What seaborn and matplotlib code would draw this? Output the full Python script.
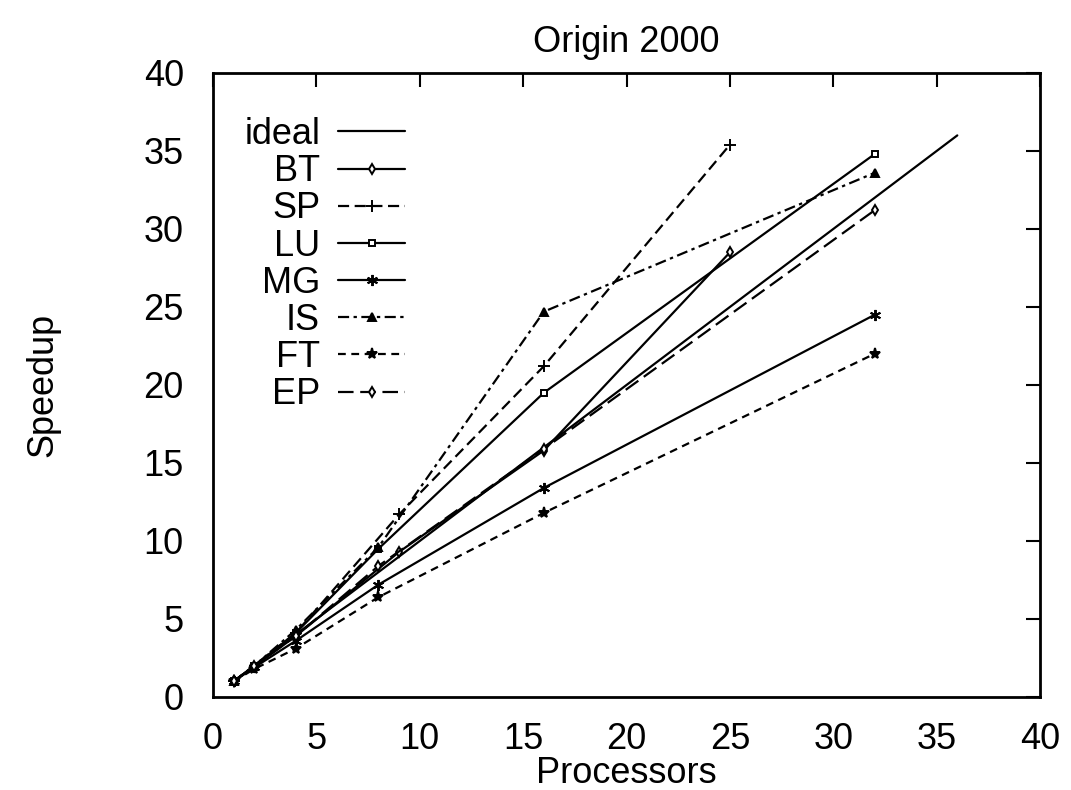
import matplotlib
matplotlib.use("Agg")
import matplotlib.pyplot as plt
import seaborn as sns
import pandas as pd

# ---- data ----
ideal_x = [1, 36]
ideal_y = [1, 36]

bt_x = [1, 4, 9, 16, 25]
bt_y = [1, 3.9, 9.3, 15.8, 28.5]

sp_x = [1, 4, 9, 16, 25]
sp_y = [1, 4.1, 11.7, 21.2, 35.4]

lu_x = [1, 2, 4, 8, 16, 32]
lu_y = [1, 2.0, 4.1, 9.5, 19.5, 34.8]

mg_x = [1, 2, 4, 8, 16, 32]
mg_y = [1, 1.9, 3.6, 7.2, 13.4, 24.5]

is_x = [1, 2, 4, 8, 16, 32]
is_y = [1, 2.0, 4.3, 9.6, 24.7, 33.6]

ft_x = [1, 2, 4, 8, 16, 32]
ft_y = [1, 1.8, 3.1, 6.4, 11.8, 22.0]

ep_x = [1, 2, 4, 8, 16, 32]
ep_y = [1, 2.0, 3.9, 8.4, 15.9, 31.2]

x_ticks = [0, 5, 10, 15, 20, 25, 30, 35, 40]
y_ticks = [0, 5, 10, 15, 20, 25, 30, 35, 40]

sns.set_style("white")
plt.rcParams["font.family"] = ["Liberation Sans", "DejaVu Sans"]
plt.rcParams["font.size"] = 26
plt.rcParams["text.color"] = "black"
plt.rcParams["axes.labelcolor"] = "black"
plt.rcParams["xtick.color"] = "black"
plt.rcParams["ytick.color"] = "black"

FS = 26

fig = plt.figure(figsize=(10.71, 7.90), dpi=100)
ax = fig.add_axes([213 / 1071, 1 - 697 / 790, (1040 - 213) / 1071, (697 - 73) / 790])

series = [
    ("ideal", ideal_x, ideal_y, "-", None, 6),
    ("BT", bt_x, bt_y, "-", "d", 5),
    ("SP", sp_x, sp_y, (0, (5, 2.5)), "+", 8),
    ("LU", lu_x, lu_y, "-", "s", 5),
    ("MG", mg_x, mg_y, "-", (6, 2, 0), 8),
    ("IS", is_x, is_y, (0, (5, 2, 1.5, 2)), "^", 6),
    ("FT", ft_x, ft_y, (0, (3.5, 2.5)), "*", 8),
    ("EP", ep_x, ep_y, (0, (7, 3)), "d", 5),
]

for name, xs, ys, ls, mk, ms in series:
    df = pd.DataFrame({"x": xs, "y": ys})
    kw = dict(color="black", linewidth=1.6, linestyle=ls, label=name)
    if mk is not None:
        kw.update(marker=mk, markersize=ms, markeredgecolor="black",
                  markeredgewidth=1.4,
                  markerfacecolor="black" if mk in ("^", "*") else "white")
    sns.lineplot(data=df, x="x", y="y", ax=ax, **kw)

ax.set_xlim(0, 40)
ax.set_ylim(0, 40)
ax.set_xticks(x_ticks)
ax.set_yticks(y_ticks)
ax.tick_params(direction="in", length=10, width=1.5, top=True, right=True,
               labelsize=FS)
ax.tick_params(axis="x", pad=18)
ax.tick_params(axis="y", pad=21)
for s in ax.spines.values():
    s.set_linewidth(2)
    s.set_color("black")

ax.set_title("Origin 2000", fontsize=FS, pad=15)
ax.set_xlabel("Processors", fontsize=FS, labelpad=-1)
ax.set_ylabel("Speedup", fontsize=FS, labelpad=60)

leg = ax.legend(loc="upper left", bbox_to_anchor=(0.0115, 0.964), frameon=False,
                markerfirst=False, fontsize=FS, handlelength=1.86,
                handletextpad=0.5, labelspacing=0.06, borderaxespad=0.2)

fig.savefig("out.png", dpi=100)
